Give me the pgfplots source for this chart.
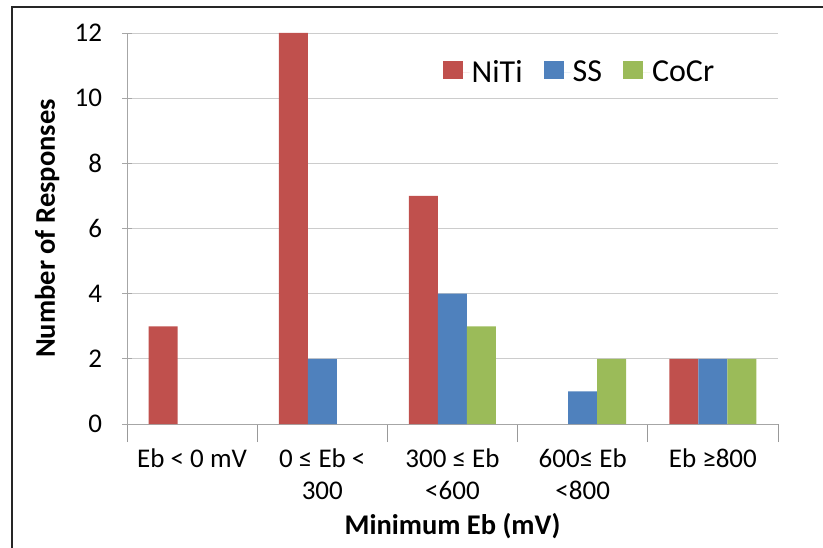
\documentclass[border=0pt]{standalone}
\usepackage{pgfplots}
\pgfplotsset{compat=1.18}
\usepackage{fontspec}
\setmainfont{Carlito}
\definecolor{cNiTi}{HTML}{C0504D}
\definecolor{cSS}{HTML}{4F81BD}
\definecolor{cCoCr}{HTML}{9BBB59}
\begin{document}
\begin{tikzpicture}[x=1pt,y=1pt]
\useasboundingbox (0,0) rectangle (823,547);
\draw[line width=2pt, black!85] (12,-5) -- (12,540) -- (830,540);
\begin{axis}[
  at={(127pt,123pt)}, anchor=south west,
  scale only axis, width=651pt, height=391pt,
  xmin=-0.5, xmax=4.5, ymin=0, ymax=12,
  ytick={0,2,...,12},
  xtick={0,1,2,3,4},
  xticklabels={{Eb < 0 mV},{0 ≤ Eb <\\300},{300 ≤ Eb\\<600},{600≤ Eb\\<800},{Eb ≥800}},
  minor xtick={-0.5,0.5,1.5,2.5,3.5,4.5},
  major x tick style={draw=none},
  minor x tick style={draw=gray!80},
  xtick align=center, ytick align=outside,
  major tick length=9pt, minor tick length=18pt,
  axis x line=bottom, axis y line=left,
  axis line style={-, draw=gray!70, line width=0.8pt},
  tick style={draw=gray!70, line width=0.8pt},
  ymajorgrids, grid style={gray!40, line width=0.8pt},
  /pgf/number format/assume math mode=true,
  tick label style={font=\fontsize{27}{32}\selectfont},
  xticklabel style={align=center, yshift=-12pt},
  yticklabel style={xshift=-17pt},
  ybar=0pt, bar width=29pt,
  xlabel={\bfseries Minimum Eb (mV)},
  ylabel={\bfseries Number of Responses},
  every axis x label/.style={at={(axis description cs:0.5,-0.262)}, anchor=center},
  every axis y label/.style={at={(axis description cs:-0.1229,0.5)}, anchor=center, rotate=90},
  label style={font=\fontsize{28.5}{33}\selectfont},
  legend columns=3,
  legend style={draw=none, fill=none, at={(0.695,0.90)}, anchor=center,
    font=\fontsize{32}{38}\selectfont,
    /tikz/every even column/.append style={column sep=19pt}},
  legend image code/.code={\fill[#1] (0pt,-7pt) rectangle (20pt,11pt); \path (20pt,0pt) -- (27pt,0pt);},
]
\addplot[fill=cNiTi, draw=none] coordinates {(0,3) (1,12) (2,7) (4,2)};
\addplot[fill=cSS, draw=none] coordinates {(1,2) (2,4) (3,1) (4,2)};
\addplot[fill=cCoCr, draw=none] coordinates {(2,3) (3,2) (4,2)};
\legend{NiTi,SS,CoCr}
\end{axis}
\end{tikzpicture}
\end{document}
